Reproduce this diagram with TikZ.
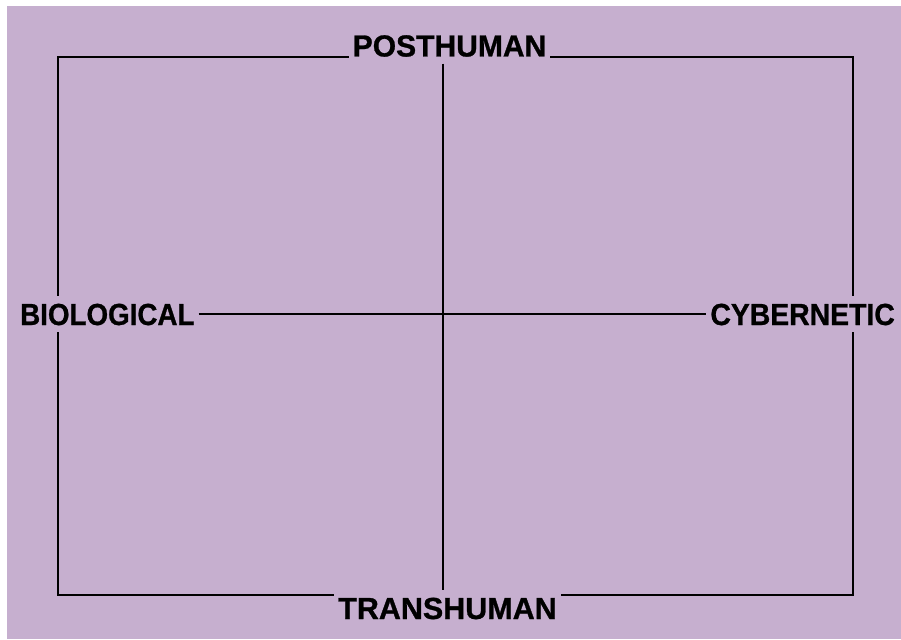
\documentclass[tikz,border=0pt]{standalone}
\usepackage{fontspec}
\setmainfont{Liberation Sans}[BoldFeatures={FakeBold=0.9}]
\definecolor{bgpurple}{HTML}{C6AFCF}
\begin{document}
\begin{tikzpicture}[x=1pt,y=-1pt,
  axislabel/.style={fill=bgpurple, inner xsep=4pt, inner ysep=7pt,
    text height=22pt, text depth=0pt,
    font=\fontsize{30.5pt}{31pt}\selectfont\bfseries},
  frame/.style={draw=black, line width=1.4pt},
  axis/.style={draw=black, line width=2.1pt}]
\useasboundingbox (0,0) rectangle (901,639);
\fill[bgpurple] (7,6) rectangle (901,639);
\draw[frame] (58,57) rectangle (853,595);
\node[axislabel] (post) at (449.5,45.5) {\scalebox{0.985}[1]{POSTHUMAN}};
\node[axislabel] (trans) at (447.5,608) {TRANSHUMAN};
\node[axislabel, anchor=west] (bio) at (16,314) {\scalebox{0.91}[1]{BIOLOGICAL}};
\node[axislabel, anchor=east] (cyb) at (899,314) {\scalebox{0.93}[1]{CYBERNETIC}};
\coordinate (c) at (443,314);
\draw[axis] (c |- post.south) -- (c |- trans.north);
\draw[axis] (bio.east) -- (cyb.west);
\end{tikzpicture}
\end{document}
